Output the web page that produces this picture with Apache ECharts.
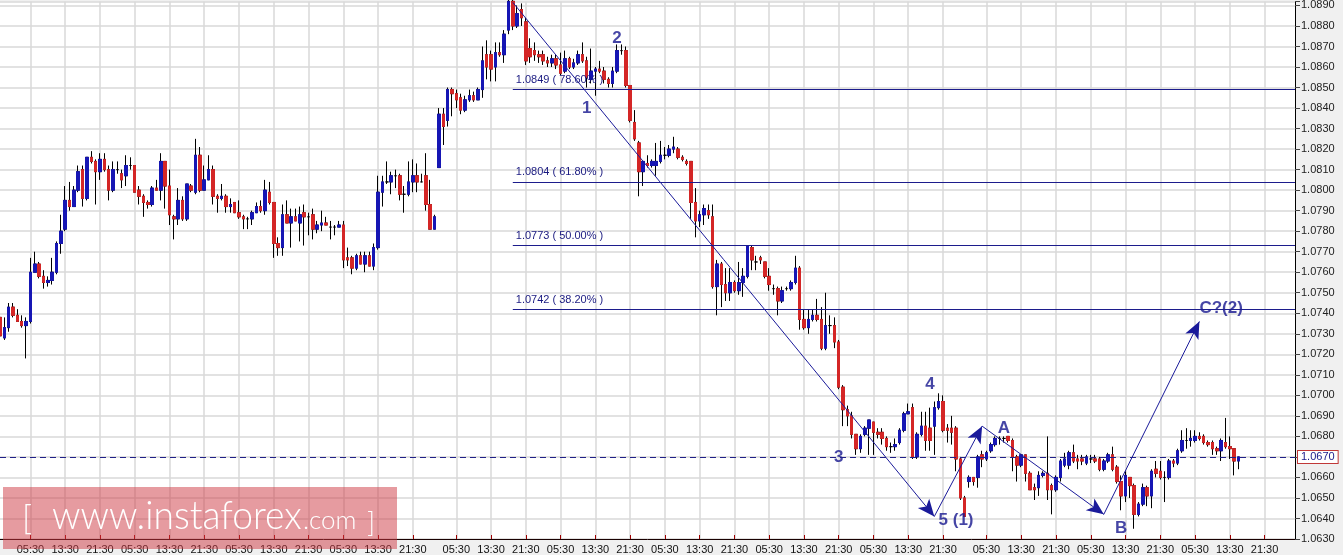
<!DOCTYPE html>
<html><head><meta charset="utf-8">
<script src="https://cdn.jsdelivr.net/npm/echarts@6/dist/echarts.min.js"></script>
<style>html,body{margin:0;padding:0;background:#f0f0f0;}#c{width:1343px;height:555px;}</style>
</head><body><div id="c"></div>
<script>
// hourly candles: [open, close, low, high]
const candles = [
[1.0738,1.0729,1.0724,1.0747],[1.0728,1.0733,1.0727,1.0738],[1.0733,1.0743,1.0731,1.0745],[1.0743,1.0739,1.0738,1.0745],[1.0739,1.0736,1.0736,1.0742],
[1.0736,1.0734,1.0733,1.0739],[1.0734,1.0736,1.0718,1.0738],[1.0736,1.0760,1.0735,1.0767],[1.0760,1.0764,1.0760,1.0770],[1.0764,1.0758,1.0757,1.0765],
[1.0758,1.0755,1.0752,1.0761],[1.0755,1.0756,1.0753,1.0758],[1.0756,1.0760,1.0754,1.0767],[1.0760,1.0774,1.0759,1.0775],[1.0774,1.0780,1.0769,1.0788],
[1.0781,1.0795,1.0780,1.0802],[1.0795,1.0792,1.0790,1.0804],[1.0792,1.0800,1.0792,1.0802],[1.0800,1.0809,1.0799,1.0812],[1.0810,1.0796,1.0792,1.0812],
[1.0796,1.0816,1.0795,1.0816],[1.0816,1.0814,1.0813,1.0819],[1.0814,1.0809,1.0793,1.0815],[1.0809,1.0815,1.0805,1.0818],[1.0815,1.0810,1.0809,1.0818],
[1.0810,1.0800,1.0795,1.0812],[1.0800,1.0810,1.0799,1.0814],[1.0810,1.0810,1.0808,1.0814],[1.0808,1.0805,1.0801,1.0810],[1.0807,1.0812,1.0802,1.0817],
[1.0812,1.0812,1.0810,1.0816],[1.0812,1.0799,1.0799,1.0812],[1.0800,1.0797,1.0793,1.0802],[1.0797,1.0794,1.0787,1.0798],[1.0794,1.0793,1.0791,1.0795],
[1.0793,1.0801,1.0792,1.0802],[1.0801,1.0800,1.0800,1.0805],[1.0800,1.0814,1.0795,1.0818],[1.0814,1.0802,1.0791,1.0814],[1.0802,1.0788,1.0783,1.0810],
[1.0787,1.0786,1.0776,1.0788],[1.0786,1.0795,1.0783,1.0801],[1.0795,1.0786,1.0785,1.0797],[1.0786,1.0803,1.0785,1.0803],[1.0802,1.0800,1.0799,1.0803],
[1.0799,1.0817,1.0798,1.0825],[1.0817,1.0800,1.0799,1.0821],[1.0800,1.0805,1.0800,1.0812],[1.0805,1.0810,1.0805,1.0817],[1.0810,1.0797,1.0793,1.0812],
[1.0797,1.0796,1.0789,1.0798],[1.0796,1.0797,1.0795,1.0803],[1.0797,1.0792,1.0789,1.0798],[1.0792,1.0793,1.0789,1.0796],[1.0794,1.0789,1.0789,1.0794],
[1.0789,1.0787,1.0786,1.0795],[1.0787,1.0786,1.0781,1.0788],[1.0786,1.0786,1.0781,1.0787],[1.0786,1.0789,1.0783,1.0790],[1.0789,1.0792,1.0789,1.0794],
[1.0792,1.0790,1.0789,1.0795],[1.0790,1.0800,1.0788,1.0805],[1.0799,1.0794,1.0793,1.0804],[1.0794,1.0774,1.0767,1.0794],[1.0774,1.0772,1.0768,1.0777],
[1.0772,1.0788,1.0768,1.0793],[1.0788,1.0784,1.0784,1.0795],[1.0784,1.0787,1.0772,1.0791],[1.0787,1.0785,1.0785,1.0791],[1.0784,1.0788,1.0775,1.0792],
[1.0789,1.0787,1.0773,1.0793],[1.0787,1.0787,1.0778,1.0789],[1.0788,1.0781,1.0776,1.0791],[1.0781,1.0783,1.0779,1.0785],[1.0783,1.0784,1.0780,1.0790],
[1.0784,1.0783,1.0783,1.0787],[1.0782,1.0782,1.0776,1.0785],[1.0782,1.0782,1.0778,1.0783],[1.0782,1.0783,1.0782,1.0785],[1.0783,1.0766,1.0762,1.0785],
[1.0767,1.0766,1.0763,1.0772],[1.0767,1.0762,1.0759,1.0768],[1.0762,1.0768,1.0761,1.0769],[1.0768,1.0764,1.0764,1.0770],[1.0764,1.0768,1.0760,1.0770],
[1.0768,1.0763,1.0763,1.0770],[1.0763,1.0772,1.0761,1.0774],[1.0772,1.0799,1.0771,1.0807],[1.0799,1.0804,1.0792,1.0807],[1.0804,1.0804,1.0803,1.0814],
[1.0804,1.0807,1.0798,1.0809],[1.0807,1.0807,1.0801,1.0810],[1.0807,1.0798,1.0795,1.0808],[1.0798,1.0798,1.0789,1.0802],[1.0798,1.0804,1.0797,1.0814],
[1.0804,1.0807,1.0799,1.0815],[1.0807,1.0804,1.0799,1.0813],[1.0804,1.0804,1.0804,1.0808],[1.0807,1.0793,1.0790,1.0818],[1.0793,1.0781,1.0781,1.0805],
[1.0781,1.0787,1.0781,1.0788],[1.0811,1.0837,1.0811,1.0840],[1.0837,1.0831,1.0822,1.0840],[1.0834,1.0849,1.0831,1.0850],[1.0849,1.0847,1.0836,1.0850],
[1.0847,1.0844,1.0840,1.0849],[1.0845,1.0839,1.0837,1.0847],[1.0839,1.0844,1.0838,1.0846],[1.0844,1.0846,1.0843,1.0849],[1.0846,1.0844,1.0843,1.0848],
[1.0844,1.0849,1.0844,1.0850],[1.0849,1.0863,1.0845,1.0870],[1.0866,1.0860,1.0854,1.0873],[1.0866,1.0859,1.0853,1.0868],[1.0860,1.0867,1.0853,1.0872],
[1.0867,1.0866,1.0865,1.0872],[1.0866,1.0876,1.0862,1.0878],[1.0878,1.0892,1.0876,1.0893],[1.0892,1.0880,1.0878,1.0893],[1.0880,1.0886,1.0879,1.0890],
[1.0888,1.0884,1.0880,1.0891],[1.0882,1.0863,1.0861,1.0884],[1.0869,1.0865,1.0862,1.0874],[1.0868,1.0866,1.0863,1.0872],[1.0866,1.0865,1.0862,1.0868],
[1.0866,1.0863,1.0861,1.0868],[1.0863,1.0862,1.0860,1.0865],[1.0862,1.0864,1.0860,1.0866],[1.0864,1.0861,1.0859,1.0866],[1.0861,1.0857,1.0856,1.0867],
[1.0858,1.0864,1.0857,1.0868],[1.0864,1.0860,1.0859,1.0865],[1.0860,1.0862,1.0859,1.0864],[1.0862,1.0866,1.0861,1.0868],[1.0866,1.0863,1.0862,1.0872],
[1.0863,1.0855,1.0850,1.0865],[1.0854,1.0858,1.0852,1.0869],[1.0858,1.0859,1.0846,1.0860],[1.0859,1.0858,1.0857,1.0863],[1.0858,1.0854,1.0852,1.0860],
[1.0854,1.0852,1.0850,1.0855],[1.0852,1.0858,1.0850,1.0860],[1.0858,1.0868,1.0857,1.0871],[1.0868,1.0868,1.0866,1.0871],[1.0868,1.0851,1.0850,1.0870],
[1.0851,1.0834,1.0833,1.0851],[1.0833,1.0825,1.0824,1.0839],[1.0823,1.0809,1.0797,1.0824],[1.0809,1.0814,1.0802,1.0814],[1.0813,1.0812,1.0811,1.0817],
[1.0812,1.0814,1.0811,1.0815],[1.0812,1.0814,1.0807,1.0823],[1.0814,1.0817,1.0813,1.0824],[1.0817,1.0817,1.0815,1.0821],[1.0817,1.0820,1.0816,1.0822],
[1.0820,1.0821,1.0818,1.0826],[1.0820,1.0816,1.0815,1.0821],[1.0816,1.0815,1.0814,1.0817],[1.0814,1.0813,1.0812,1.0815],[1.0814,1.0794,1.0786,1.0814],
[1.0794,1.0785,1.0777,1.0801],[1.0785,1.0788,1.0782,1.0790],[1.0788,1.0791,1.0783,1.0793],[1.0790,1.0788,1.0786,1.0793],[1.0787,1.0753,1.0752,1.0793],
[1.0753,1.0764,1.0739,1.0766],[1.0764,1.0754,1.0743,1.0765],[1.0754,1.0750,1.0746,1.0762],[1.0750,1.0755,1.0746,1.0762],[1.0755,1.0751,1.0750,1.0756],
[1.0751,1.0755,1.0749,1.0765],[1.0755,1.0758,1.0748,1.0762],[1.0758,1.0773,1.0757,1.0773],[1.0772,1.0766,1.0761,1.0773],[1.0765,1.0765,1.0761,1.0768],
[1.0767,1.0766,1.0764,1.0768],[1.0765,1.0758,1.0757,1.0765],[1.0758,1.0754,1.0751,1.0762],[1.0752,1.0752,1.0749,1.0754],[1.0752,1.0746,1.0739,1.0753],
[1.0746,1.0751,1.0745,1.0753],[1.0752,1.0752,1.0751,1.0753],[1.0752,1.0755,1.0751,1.0756],[1.0755,1.0762,1.0754,1.0768],[1.0762,1.0737,1.0732,1.0763],
[1.0737,1.0733,1.0732,1.0742],[1.0733,1.0737,1.0730,1.0742],[1.0737,1.0739,1.0736,1.0742],[1.0739,1.0737,1.0736,1.0747],[1.0737,1.0723,1.0722,1.0743],
[1.0723,1.0734,1.0722,1.0750],[1.0734,1.0734,1.0730,1.0739],[1.0734,1.0726,1.0723,1.0738],[1.0726,1.0704,1.0703,1.0727],[1.0704,1.0693,1.0685,1.0705],
[1.0693,1.0690,1.0685,1.0695],[1.0690,1.0681,1.0679,1.0692],[1.0681,1.0674,1.0671,1.0681],[1.0674,1.0680,1.0672,1.0681],[1.0681,1.0684,1.0680,1.0685],
[1.0684,1.0688,1.0671,1.0688],[1.0687,1.0682,1.0671,1.0687],[1.0682,1.0681,1.0679,1.0684],[1.0682,1.0679,1.0676,1.0684],[1.0679,1.0675,1.0673,1.0680],
[1.0675,1.0675,1.0672,1.0677],[1.0675,1.0676,1.0673,1.0679],[1.0677,1.0683,1.0676,1.0684],[1.0683,1.0691,1.0682,1.0692],[1.0691,1.0692,1.0691,1.0696],
[1.0694,1.0670,1.0669,1.0696],[1.0670,1.0681,1.0669,1.0682],[1.0681,1.0685,1.0680,1.0692],[1.0685,1.0678,1.0673,1.0692],[1.0684,1.0678,1.0673,1.0694],
[1.0685,1.0694,1.0671,1.0697],[1.0694,1.0697,1.0693,1.0701],[1.0697,1.0683,1.0682,1.0700],[1.0684,1.0683,1.0677,1.0686],[1.0684,1.0682,1.0676,1.0690],
[1.0684,1.0669,1.0663,1.0685],[1.0669,1.0650,1.0649,1.0670],[1.0650,1.0641,1.0641,1.0651],[1.0658,1.0660,1.0655,1.0661],[1.0660,1.0658,1.0656,1.0660],
[1.0660,1.0670,1.0655,1.0671],[1.0671,1.0669,1.0665,1.0673],[1.0669,1.0672,1.0668,1.0673],[1.0673,1.0676,1.0672,1.0677],[1.0676,1.0679,1.0675,1.0680],
[1.0679,1.0679,1.0676,1.0680],[1.0679,1.0679,1.0677,1.0680],[1.0680,1.0678,1.0677,1.0680],[1.0678,1.0670,1.0663,1.0679],[1.0670,1.0666,1.0658,1.0671],
[1.0666,1.0671,1.0665,1.0671],[1.0671,1.0662,1.0658,1.0671],[1.0662,1.0654,1.0654,1.0663],[1.0655,1.0654,1.0649,1.0657],[1.0655,1.0661,1.0651,1.0663],
[1.0661,1.0662,1.0660,1.0663],[1.0662,1.0654,1.0649,1.0680],[1.0656,1.0654,1.0642,1.0657],[1.0654,1.0660,1.0653,1.0661],[1.0660,1.0668,1.0658,1.0669],
[1.0666,1.0669,1.0665,1.0672],[1.0666,1.0672,1.0664,1.0673],[1.0672,1.0668,1.0667,1.0676],[1.0669,1.0668,1.0664,1.0671],[1.0669,1.0668,1.0666,1.0671],
[1.0667,1.0670,1.0666,1.0671],[1.0669,1.0669,1.0667,1.0671],[1.0669,1.0668,1.0667,1.0671],[1.0669,1.0664,1.0663,1.0670],[1.0664,1.0668,1.0663,1.0669],
[1.0668,1.0671,1.0667,1.0672],[1.0671,1.0664,1.0663,1.0675],[1.0665,1.0658,1.0657,1.0666],[1.0658,1.0651,1.0644,1.0661],[1.0651,1.0661,1.0648,1.0663],
[1.0660,1.0656,1.0650,1.0660],[1.0656,1.0642,1.0635,1.0657],[1.0642,1.0647,1.0641,1.0648],[1.0647,1.0655,1.0646,1.0657],[1.0655,1.0651,1.0646,1.0656],
[1.0651,1.0663,1.0645,1.0664],[1.0664,1.0662,1.0660,1.0668],[1.0663,1.0660,1.0659,1.0668],[1.0660,1.0660,1.0648,1.0663],[1.0660,1.0668,1.0659,1.0669],
[1.0668,1.0667,1.0665,1.0669],[1.0667,1.0673,1.0666,1.0674],[1.0673,1.0678,1.0672,1.0683],[1.0678,1.0678,1.0674,1.0684],[1.0678,1.0679,1.0675,1.0683],
[1.0678,1.0680,1.0677,1.0683],[1.0680,1.0679,1.0678,1.0682],[1.0680,1.0677,1.0676,1.0681],[1.0677,1.0676,1.0675,1.0678],[1.0677,1.0674,1.0671,1.0678],
[1.0674,1.0673,1.0671,1.0675],[1.0673,1.0678,1.0668,1.0679],[1.0677,1.0675,1.0674,1.0689],[1.0675,1.0674,1.0669,1.0680],[1.0674,1.0668,1.0661,1.0674],
[1.0668,1.0670,1.0664,1.0670]
];
const slotCount = 299; // hourly slots shown on the time axis
const tickIndex = [7,15,23,31,39,47,55,63,71,79,87,95,105,113,121,129,137,145,153,161,169,177,185,193,201,209,217,227,235,243,251,259,267,275,283,291];
const tickLabels = ['05:30','13:30','21:30','05:30','13:30','21:30','05:30','13:30','21:30','05:30','13:30','21:30',
  '05:30','13:30','21:30','05:30','13:30','21:30','05:30','13:30','21:30','05:30','13:30','21:30','05:30','13:30','21:30',
  '05:30','13:30','21:30','05:30','13:30','21:30','05:30','13:30','21:30'];
const yMin = 1.0630, yMax = 1.08919, yStep = 0.0010;
const fibStart = 118;
const fibPrices = [1.0849, 1.0804, 1.0773, 1.0742];
const fibLabels = ['1.0849 ( 78.60% )', '1.0804 ( 61.80% )', '1.0773 ( 50.00% )', '1.0742 ( 38.20% )'];
const lastPrice = 1.0670;
const wavePointIdx = [118, 215, 226, 254, 276];
const wavePointPrice = [1.08915, 1.0641, 1.0685, 1.0642, 1.0736];
const waveLabels = ['1', '2', '3', '4', '5 (1)', 'A', 'B', 'C?(2)'];
const waveLabelIdx = [135, 142, 193, 214, 220, 231, 258, 281];
const waveLabelPrice = [1.0840, 1.0874, 1.0670, 1.07055, 1.0639, 1.0684, 1.0635, 1.07425];

const FONT = '"Liberation Sans", Arial, sans-serif';
const categories = Array.from({length: slotCount}, (_, i) => 'h' + i);
const tickMap = new Map(tickIndex.map((t, i) => [t, tickLabels[i]]));
const isTick = (i) => tickMap.has(i);
const fullData = candles.map(c => [c[0], c[1], c[2], c[3]]);
const bodyData = candles.map(c => [c[0], c[1], Math.min(c[0], c[1]), Math.max(c[0], c[1])]);
const lastIdx = slotCount - 1;

const fibLines = fibPrices.map((p, i) => [
  {coord: [fibStart, p], label: {formatter: fibLabels[i]}},
  {coord: [lastIdx, p]}
]);
const priceLine = [
  {coord: [0, lastPrice], lineStyle: {type: [6, 4], color: '#202088', width: 1},
   label: {show: true, position: 'end', distance: 3, formatter: lastPrice.toFixed(4), color: '#1a1a8a',
     fontSize: 11, fontFamily: FONT, backgroundColor: '#fff', borderColor: '#c03838', borderWidth: 1, padding: [1, 3, 0, 3]}},
  {coord: [lastIdx, lastPrice]}
];
const waveSegs = [];
for (let i = 0; i < wavePointIdx.length - 1; i++) {
  waveSegs.push([{coord: [wavePointIdx[i], wavePointPrice[i]]}, {coord: [wavePointIdx[i + 1], wavePointPrice[i + 1]]}]);
}

const chart = echarts.init(document.getElementById('c'));
chart.setOption({
  animation: false,
  backgroundColor: '#f0f0f0',
  grid: {left: 0, right: 48, top: 0, bottom: 10, show: true, backgroundColor: '#ffffff', borderWidth: 0},
  xAxis: {
    type: 'category', data: categories, boundaryGap: false,
    axisLine: {lineStyle: {color: '#1a0000', width: 1}},
    axisTick: {show: true, inside: true, length: 4, interval: (i) => isTick(i), lineStyle: {color: '#a00000'}},
    axisLabel: {interval: (i) => isTick(i), formatter: (v, i) => tickMap.get(i) || '', margin: 5,
      fontSize: 11, color: '#111', fontFamily: FONT},
    splitLine: {show: true, interval: (i) => isTick(i), lineStyle: {color: '#d9d9d9', width: 1.5}}
  },
  yAxis: {
    type: 'value', position: 'right', min: yMin, max: yMax, interval: yStep, scale: true,
    axisLine: {show: true, lineStyle: {color: '#000', width: 1}},
    axisTick: {show: true, length: 5, lineStyle: {color: '#444'}},
    axisLabel: {margin: 6, fontSize: 11, color: '#222', fontFamily: FONT,
      formatter: (v) => {
        const k = v / yStep;
        if (Math.abs(k - Math.round(k)) > 1e-6) return '';
        if (Math.abs(v - lastPrice) < 1e-7) return '';
        return v.toFixed(4);
      }},
    splitLine: {show: true, lineStyle: {color: '#d9d9d9', width: 1.5}}
  },
  series: [
    {
      type: 'candlestick', data: fullData, barWidth: 3,
      itemStyle: {color: '#000', color0: '#000', borderColor: '#000', borderColor0: '#000', borderColorDoji: '#000', borderWidth: 1},
      markLine: {
        silent: true, symbol: ['none', 'none'], animation: false,
        lineStyle: {color: '#1c1c8c', width: 1.2, type: 'solid'},
        label: {show: true, position: 'insideStartTop', distance: [3, 4], color: '#1a1a80', fontSize: 11, fontFamily: FONT},
        data: fibLines.concat([priceLine])
      }
    },
    {
      type: 'candlestick', data: bodyData, barWidth: 3,
      itemStyle: {color: '#1616b4', color0: '#d42626', borderColor: '#1616b4', borderColor0: '#d42626',
        borderColorDoji: 'rgba(0,0,0,0)', borderWidth: 1}
    },
    {
      type: 'scatter', symbolSize: 1, itemStyle: {color: 'rgba(0,0,0,0)'},
      data: waveLabelIdx.map((x, i) => [x, waveLabelPrice[i]]),
      label: {show: true, position: 'inside', formatter: (p) => waveLabels[p.dataIndex],
        fontSize: 17, fontWeight: 'bold', color: '#16168e', fontFamily: FONT},
      markLine: {
        silent: true, symbol: ['none', 'arrow'], symbolSize: [11, 17], animation: false,
        lineStyle: {color: '#1a1a9a', width: 1, type: 'solid'},
        label: {show: false},
        data: waveSegs
      }
    }
  ],
  graphic: [
    {type: 'rect', shape: {x: 3, y: 487, width: 394, height: 62}, style: {fill: 'rgba(205,55,65,0.5)'}, z: 100, silent: true},
    {type: 'text', x: 22, y: 519, z: 101, silent: true,
      style: {text: '[', font: '300 34px Lato, "Liberation Sans", sans-serif', fill: '#fff', verticalAlign: 'middle'}},
    {type: 'text', x: 52, y: 516, z: 101, silent: true, scaleX: 0.93,
      style: {text: 'www.instaforex', font: '300 40px Lato, "Liberation Sans", sans-serif', fill: '#fff', verticalAlign: 'middle'}},
    {type: 'text', x: 303, y: 521, z: 101, silent: true,
      style: {text: '.com', font: '300 26px Lato, "Liberation Sans", sans-serif', fill: '#fff', verticalAlign: 'middle'}},
    {type: 'text', x: 367, y: 523, z: 101, silent: true,
      style: {text: ']', font: '300 27px Lato, "Liberation Sans", sans-serif', fill: '#fff', verticalAlign: 'middle'}}
  ]
});
</script></body></html>
